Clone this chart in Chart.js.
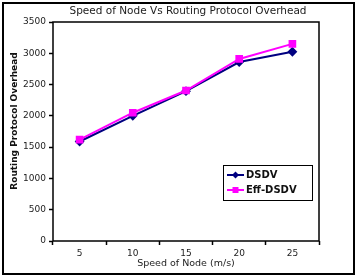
<!DOCTYPE html>
<html>
<head>
<meta charset="utf-8">
<script src="https://cdn.jsdelivr.net/npm/chart.js@4"></script>
<style>
  html, body { margin: 0; padding: 0; background: #fff; }
  #wrap { width: 358px; height: 278px; }
</style>
</head>
<body>
<div id="wrap"><canvas id="speedChart" width="358" height="278"></canvas></div>
<script>
const speeds = ['5', '10', '15', '20', '25'];
const dsdv = [1590, 2000, 2395, 2860, 3025];
const effDsdv = [1620, 2050, 2405, 2910, 3150];
const yTicks = [0, 500, 1000, 1500, 2000, 2500, 3000, 3500];

const FONT = 'DejaVu Sans';
const chartTitle = 'Speed of Node Vs Routing Protocol Overhead';
const xTitle = 'Speed of Node (m/s)';
const yTitle = 'Routing Protocol Overhead';

// outer frame, titles, plot box and the boxed legend inside the plot
const framePlugin = {
    id: 'frame',
    afterDraw(chart) {
        const ctx = chart.ctx;
        const a = chart.chartArea;
        const cx = (a.left + a.right) / 2;
        ctx.save();
        ctx.strokeStyle = '#000';
        ctx.lineWidth = 2;
        ctx.strokeRect(3, 3, 351, 271);
        ctx.lineWidth = 1.5;
        ctx.strokeRect(a.left, a.top, a.right - a.left, a.bottom - a.top);

        // titles
        ctx.textAlign = 'center';
        ctx.textBaseline = 'middle';
        ctx.fillStyle = '#222';
        ctx.font = '10.5px ' + FONT;
        ctx.fillText(chartTitle, cx + 2, 11);
        ctx.font = '9.5px ' + FONT;
        ctx.fillText(xTitle, cx, 264);
        ctx.save();
        ctx.translate(15, 121);
        ctx.rotate(-Math.PI / 2);
        ctx.fillStyle = '#111';
        ctx.font = 'bold 9px ' + FONT;
        ctx.fillText(yTitle, 0, 0);
        ctx.restore();

        // legend
        const lx = 223, ly = 165, lw = 89, lh = 35;
        ctx.textAlign = 'left';
        ctx.fillStyle = '#fff';
        ctx.fillRect(lx, ly, lw, lh);
        ctx.lineWidth = 1;
        ctx.strokeStyle = '#000';
        ctx.strokeRect(lx + 0.5, ly + 0.5, lw, lh);
        ctx.font = 'bold 10px ' + FONT;
        chart.data.datasets.forEach((ds, i) => {
            const y = ly + 10 + i * 15;
            ctx.strokeStyle = ds.borderColor;
            ctx.lineWidth = 2;
            ctx.beginPath();
            ctx.moveTo(lx + 4, y);
            ctx.lineTo(lx + 21, y);
            ctx.stroke();
            ctx.fillStyle = ds.borderColor;
            if (ds.pointStyle === 'rectRot') {
                ctx.beginPath();
                ctx.moveTo(lx + 12.5, y - 3.5);
                ctx.lineTo(lx + 16, y);
                ctx.lineTo(lx + 12.5, y + 3.5);
                ctx.lineTo(lx + 9, y);
                ctx.closePath();
                ctx.fill();
            } else {
                ctx.fillRect(lx + 9.5, y - 3, 6, 6);
            }
            ctx.fillStyle = '#111';
            ctx.fillText(ds.label, lx + 23, y + 0.5);
        });
        ctx.restore();
    }
};

const ctx = document.getElementById('speedChart').getContext('2d');
new Chart(ctx, {
    type: 'line',
    data: {
        labels: speeds,
        datasets: [{
            label: 'DSDV',
            data: dsdv,
            borderColor: '#000080',
            backgroundColor: '#000080',
            borderWidth: 2,
            pointStyle: 'rectRot',
            pointRadius: 3.5,
            order: 1
        }, {
            label: 'Eff-DSDV',
            data: effDsdv,
            borderColor: '#ff00ff',
            backgroundColor: '#ff00ff',
            borderWidth: 2,
            pointStyle: 'rect',
            pointRadius: 4,
            order: 0
        }]
    },
    options: {
        responsive: false,
        animation: false,
        layout: { padding: { left: 8, right: 39, top: 22, bottom: 6 } },
        plugins: {
            legend: { display: false },
            tooltip: { enabled: false },
            title: { display: false }
        },
        scales: {
            x: {
                offset: true,
                grid: { offset: true, drawOnChartArea: false, color: '#000', tickLength: 4, tickWidth: 1.5 },
                border: { display: false },
                ticks: { color: '#222', font: { family: FONT, size: 9 }, padding: 3 },
                afterFit: s => { s.height = 31; }
            },
            y: {
                min: 0,
                max: 3500,
                afterBuildTicks: s => { s.ticks = yTicks.map(v => ({ value: v })); },
                grid: { drawOnChartArea: false, color: '#000', tickLength: 4, tickWidth: 1.5 },
                border: { display: false },
                ticks: { color: '#222', font: { family: FONT, size: 9 }, padding: 3, callback: v => String(v) },
                afterFit: s => { s.width = 45; }
            }
        }
    },
    plugins: [framePlugin]
});
</script>
</body>
</html>
